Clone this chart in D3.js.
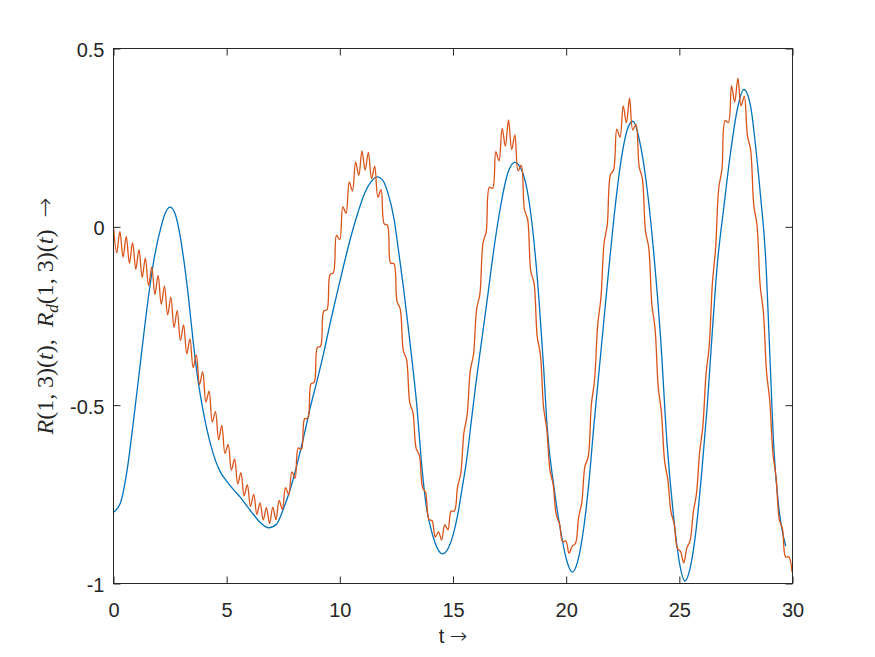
<!DOCTYPE html>
<html>
<head>
<meta charset="utf-8">
<script src="https://cdn.jsdelivr.net/npm/d3@7"></script>
<style>
  html, body { margin: 0; padding: 0; background: #ffffff; }
  svg { display: block; }
</style>
</head>
<body>
<div id="chart"></div>
<script>
// ---------------- data ----------------
// R(1,3)(t)  (blue, smooth)
const tBlue = [0,0.3,0.6,0.9,1.2,1.5,1.8,2.1,2.3,2.5,
  2.7,2.9,3.1,3.3,3.5,3.7,3.9,4.1,4.4,4.7,
  5.0,5.3,5.6,5.9,6.2,6.5,6.86,7.2,7.5,7.8,
  8.1,8.4,8.7,9.0,9.3,9.6,9.9,10.2,10.5,10.8,
  11.1,11.4,11.65,11.9,12.1,12.4,12.6,12.8,13.0,13.2,
  13.4,13.6,13.8,14.0,14.2,14.54,14.8,15.0,15.2,15.4,
  15.6,15.85,16.0,16.2,16.51,16.8,17.1,17.4,17.73,18.06,
  18.35,18.57,18.8,19.0,19.16,19.46,19.75,20.0,20.27,20.5,
  20.78,21.0,21.22,21.52,21.82,22.11,22.4,22.7,22.95,23.29,
  23.58,23.88,24.17,24.46,24.76,25.0,25.25,25.5,25.72,26.01,
  26.23,26.45,26.67,26.97,27.26,27.56,27.85,28.15,28.37,28.59,
  28.81,29.0,29.18,29.4,29.7];
const rBlue = [-0.800,-0.775,-0.683,-0.535,-0.375,-0.218,-0.088,0.000,0.040,0.055,
  0.040,-0.010,-0.090,-0.190,-0.310,-0.415,-0.495,-0.560,-0.635,-0.685,
  -0.713,-0.737,-0.758,-0.783,-0.808,-0.830,-0.844,-0.834,-0.792,-0.738,
  -0.668,-0.590,-0.505,-0.430,-0.350,-0.262,-0.180,-0.100,-0.025,0.040,
  0.095,0.128,0.140,0.130,0.100,0.020,-0.070,-0.165,-0.270,-0.380,
  -0.500,-0.655,-0.775,-0.840,-0.885,-0.917,-0.900,-0.865,-0.810,-0.735,
  -0.655,-0.523,-0.445,-0.350,-0.205,-0.065,0.057,0.146,0.181,0.155,
  0.076,-0.037,-0.205,-0.390,-0.561,-0.730,-0.850,-0.930,-0.968,-0.940,
  -0.842,-0.720,-0.560,-0.360,-0.160,0.025,0.175,0.272,0.296,0.226,
  0.104,-0.080,-0.310,-0.610,-0.820,-0.940,-0.993,-0.950,-0.860,-0.673,
  -0.505,-0.300,-0.111,0.057,0.207,0.329,0.385,0.338,0.226,0.085,
  -0.083,-0.360,-0.626,-0.790,-0.895];

// R_d(1,3)(t)  (orange, with fast ripple) sampled every dtOrange, starting at t = 0
const dtOrange = 0.14075;
const rOrange = [0.000,-0.073,-0.013,-0.085,-0.027,-0.102,-0.044,-0.119,-0.064,-0.142,
  -0.087,-0.165,-0.112,-0.190,-0.136,-0.217,-0.166,-0.247,-0.197,-0.282,
  -0.235,-0.319,-0.275,-0.356,-0.314,-0.395,-0.359,-0.442,-0.406,-0.491,
  -0.461,-0.547,-0.518,-0.597,-0.557,-0.635,-0.610,-0.682,-0.651,-0.721,
  -0.689,-0.754,-0.723,-0.784,-0.750,-0.806,-0.774,-0.822,-0.787,-0.832,
  -0.786,-0.821,-0.767,-0.792,-0.731,-0.751,-0.687,-0.705,-0.620,-0.624,
  -0.538,-0.537,-0.440,-0.436,-0.338,-0.335,-0.236,-0.233,-0.133,-0.129,
  -0.024,-0.036,0.056,0.038,0.126,0.101,0.182,0.144,0.213,0.159,
  0.209,0.135,0.170,0.083,0.104,0.008,0.004,-0.102,-0.103,-0.209,
  -0.230,-0.348,-0.372,-0.493,-0.521,-0.621,-0.640,-0.730,-0.746,-0.820,
  -0.824,-0.870,-0.855,-0.878,-0.835,-0.849,-0.797,-0.797,-0.730,-0.692,
  -0.577,-0.528,-0.403,-0.358,-0.230,-0.189,-0.045,-0.014,0.111,0.108,
  0.211,0.185,0.276,0.226,0.300,0.217,0.258,0.157,0.173,0.048,
  0.021,-0.125,-0.157,-0.307,-0.358,-0.506,-0.567,-0.682,-0.722,-0.808,
  -0.832,-0.883,-0.881,-0.915,-0.895,-0.888,-0.815,-0.773,-0.671,-0.646,
  -0.499,-0.430,-0.275,-0.200,-0.046,0.006,0.146,0.160,0.274,0.251,
  0.339,0.292,0.361,0.272,0.287,0.169,0.136,-0.012,-0.057,-0.218,
  -0.285,-0.449,-0.521,-0.657,-0.708,-0.799,-0.833,-0.901,-0.910,-0.942,
  -0.900,-0.880,-0.800,-0.748,-0.631,-0.560,-0.413,-0.334,-0.158,-0.061,
  0.109,0.161,0.298,0.292,0.396,0.350,0.417,0.339,0.366,0.255,
  0.216,0.060,0.005,-0.165,-0.238,-0.407,-0.487,-0.635,-0.703,-0.821,
  -0.847,-0.926,-0.925,-0.968];

const xTicks = [0, 5, 10, 15, 20, 25, 30];
const yTicks = [-1, -0.5, 0, 0.5];
const yTickLabels = ["-1", "-0.5", "0", "0.5"];
const xDomain = [0, 30];
const yDomain = [-1, 0.5];

// ---------------- layout ----------------
const W = 875, H = 657;
const L = 113.5, R = 792.5, T = 48.5, B = 583.5;
const axisColor = "#262626";
const blue = "#0072BD", orange = "#D95319";
const tickFont = "'Liberation Sans', Arial, Helvetica, sans-serif";
const arrowFont = "'DejaVu Sans', sans-serif";
const fs = 20;
const tickLen = 7;

const svg = d3.select("#chart").append("svg")
  .attr("width", W).attr("height", H)
  .attr("viewBox", `0 0 ${W} ${H}`);
svg.append("rect").attr("width", W).attr("height", H).attr("fill", "#fff");

const x = d3.scaleLinear().domain(xDomain).range([L, R]);
const y = d3.scaleLinear().domain(yDomain).range([B, T]);

// clip
svg.append("clipPath").attr("id", "clip")
  .append("rect").attr("x", L).attr("y", T).attr("width", R - L).attr("height", B - T);

// lines
const blueData = tBlue.map((t, i) => [t, rBlue[i]]);
const orangeData = rOrange.map((v, i) => [i * dtOrange, v]);

const plotG = svg.append("g").attr("clip-path", "url(#clip)");
plotG.append("path")
  .datum(blueData)
  .attr("fill", "none").attr("stroke", blue).attr("stroke-width", 1.3)
  .attr("stroke-linejoin", "round")
  .attr("d", d3.line().x(d => x(d[0])).y(d => y(d[1])).curve(d3.curveMonotoneX));
plotG.append("path")
  .datum(orangeData)
  .attr("fill", "none").attr("stroke", orange).attr("stroke-width", 1.3)
  .attr("stroke-linejoin", "round")
  .attr("d", d3.line().x(d => x(d[0])).y(d => y(d[1])).curve(d3.curveCatmullRom.alpha(0.5)));

// axes (ticks pointing inward, mirrored on top/right)
function styleAxis(g) {
  g.select(".domain").remove();
  g.selectAll(".tick line").attr("stroke", axisColor).attr("stroke-width", 1);
  g.selectAll(".tick text").attr("fill", axisColor)
    .attr("font-family", tickFont).attr("font-size", fs);
}
svg.append("g").attr("transform", `translate(0,${B})`)
  .call(d3.axisBottom(x).tickValues(xTicks).tickFormat(d3.format("d"))
    .tickSizeInner(-tickLen).tickSizeOuter(0).tickPadding(19))
  .call(styleAxis)
  .call(g => g.selectAll(".tick text").attr("dy", "0.71em"));
svg.append("g").attr("transform", `translate(0,${T})`)
  .call(d3.axisTop(x).tickValues(xTicks).tickFormat("")
    .tickSizeInner(-tickLen).tickSizeOuter(0))
  .call(styleAxis);
svg.append("g").attr("transform", `translate(${L},0)`)
  .call(d3.axisLeft(y).tickValues(yTicks).tickFormat((d, i) => yTickLabels[i])
    .tickSizeInner(-tickLen).tickSizeOuter(0).tickPadding(9))
  .call(styleAxis)
  .call(g => g.selectAll(".tick text").attr("dy", "0.40em"));
svg.append("g").attr("transform", `translate(${R},0)`)
  .call(d3.axisRight(y).tickValues(yTicks).tickFormat("")
    .tickSizeInner(-tickLen).tickSizeOuter(0))
  .call(styleAxis);

// box
svg.append("rect")
  .attr("x", L).attr("y", T).attr("width", R - L).attr("height", B - T)
  .attr("fill", "none").attr("stroke", axisColor).attr("stroke-width", 1);

// x label
const xl = svg.append("text")
  .attr("x", (L + R) / 2).attr("y", 643)
  .attr("text-anchor", "middle")
  .attr("font-family", tickFont).attr("font-size", fs)
  .attr("fill", axisColor);
xl.append("tspan").text("t ");
xl.append("tspan").attr("font-family", arrowFont).attr("font-size", 21).attr("font-weight", 300).text("\u2192");

// y label (LaTeX-like, serif)
const serif = "'Liberation Serif', 'DejaVu Serif', 'Times New Roman', serif";
const yl = svg.append("text")
  .attr("transform", `translate(53,${(T + B) / 2}) rotate(-90)`)
  .attr("text-anchor", "middle")
  .attr("font-family", serif).attr("font-size", 21)
  .attr("fill", axisColor);
const parts = [
  { s: "R", it: true },
  { s: "(1, 3)(", it: false },
  { s: "t", it: true },
  { s: "),\u2002", it: false },
  { s: "R", it: true },
  { s: "d", it: true, sub: true },
  { s: "(1, 3)(", it: false, after: true },
  { s: "t", it: true },
  { s: ")\u2002", it: false },
  { s: "\u2192", it: false, arrow: true }
];
parts.forEach(p => {
  const ts = yl.append("tspan").text(p.s)
    .attr("font-style", p.it ? "italic" : "normal");
  if (p.sub) ts.attr("dy", 5).attr("font-size", 15).classed("sub", true);
  if (p.after) ts.attr("dy", -5);
  if (p.arrow) ts.attr("font-family", arrowFont).attr("font-weight", 300).classed("arr", true);
});
// fit length to the reference span
const len = yl.node().getComputedTextLength();
const target = 237;
if (len > 0) {
  const k = target / len;
  yl.attr("font-size", 21 * k);
  yl.selectAll("tspan.sub").attr("font-size", 15 * k);
}
</script>
</body>
</html>
